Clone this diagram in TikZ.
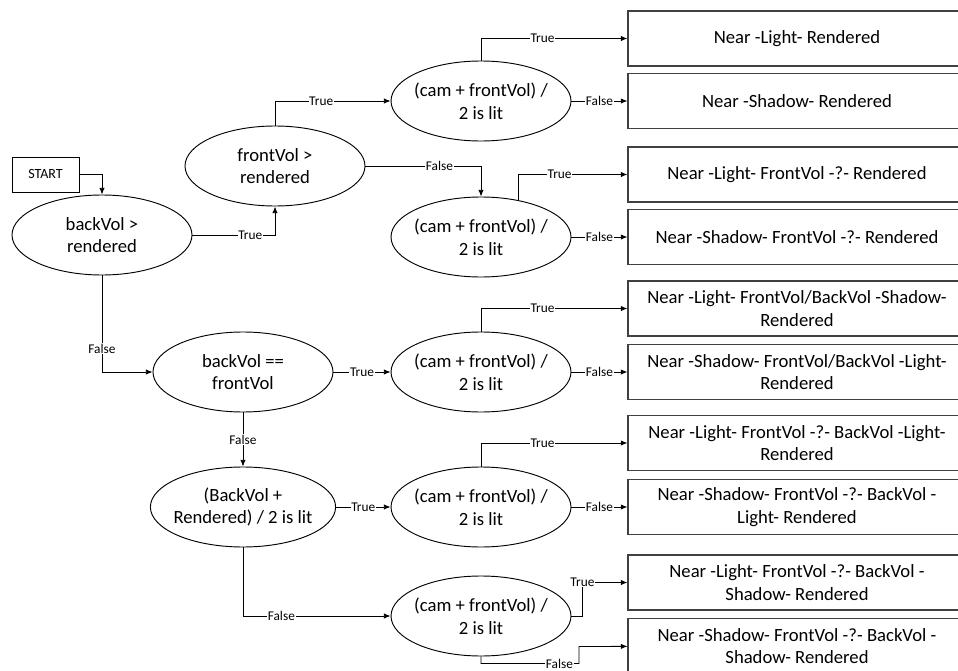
\documentclass[tikz,border=0pt]{standalone}
\usepackage{fontspec}
\setmainfont{Carlito}
\usetikzlibrary{arrows.meta, shapes.geometric}

\begin{document}
\begin{tikzpicture}[x=0.75pt, y=-0.75pt,
    cond/.style = {draw, ellipse, line width=0.7pt, align=center, font=\fontsize{14}{17}\selectfont,
        inner xsep=-3pt, inner ysep=4pt, minimum width=135pt, minimum height=60pt},
    result/.style = {draw, rectangle, line width=0.8pt, draw=black!75, align=center, font=\fontsize{14}{17}\selectfont,
        minimum width=253.5pt, minimum height=41.25pt, inner sep=0pt},
    startbox/.style = {draw, rectangle, line width=0.7pt, font=\fontsize{10.5}{12}\selectfont,
        minimum width=50.25pt, minimum height=26.25pt},
    lbl/.style = {fill=white, inner sep=0.5pt, font=\fontsize{10}{11}\selectfont},
    arr/.style = {-{Latex[length=5pt,width=4pt]}, line width=0.6pt}]
    \useasboundingbox (0,0) rectangle (958,671);

    \node[startbox] (start) at (45.5,174.5) {START};
    \node[cond] (bv) at (102,235) {backVol >\\rendered};
    \node[cond] (fv) at (275,166) {frontVol >\\rendered};
    \node[cond] (be) at (243,372) {backVol ==\\frontVol};
    \node[cond] (br) at (243,507) {(BackVol +\\Rendered) / 2 is lit};

    \node[cond] (c1) at (481,101) {(cam + frontVol) /\\2 is lit};
    \node[cond] (c2) at (481,237) {(cam + frontVol) /\\2 is lit};
    \node[cond] (c3) at (481,372) {(cam + frontVol) /\\2 is lit};
    \node[cond] (c4) at (481,507) {(cam + frontVol) /\\2 is lit};
    \node[cond] (c5) at (481,616) {(cam + frontVol) /\\2 is lit};

    \node[result] (r1) at (797,38.5) {Near -Light- Rendered};
    \node[result] (r2) at (797,101) {Near -Shadow- Rendered};
    \node[result] (r3) at (797,174.5) {Near -Light- FrontVol -?- Rendered};
    \node[result] (r4) at (797,237) {Near -Shadow- FrontVol -?- Rendered};
    \node[result] (r5) at (797,308.5) {Near -Light- FrontVol/BackVol -Shadow-\\Rendered};
    \node[result] (r6) at (797,372) {Near -Shadow- FrontVol/BackVol -Light-\\Rendered};
    \node[result] (r7) at (797,443) {Near -Light- FrontVol -?- BackVol -Light-\\Rendered};
    \node[result] (r8) at (797,507) {Near -Shadow- FrontVol -?- BackVol -\\Light- Rendered};
    \node[result] (r9) at (797,582.5) {Near -Light- FrontVol -?- BackVol -\\Shadow- Rendered};
    \node[result] (r10) at (797,646) {Near -Shadow- FrontVol -?- BackVol -\\Shadow- Rendered};

    \draw[arr] (start) -| (bv);
    \draw[arr] (bv) -| node[lbl, pos=0.35] {True} (fv);
    \draw[arr] (bv) |- node[lbl, pos=0.38] {False} (be);
    \draw[arr] (fv) |- node[lbl, pos=0.7] {True} (c1);
    \draw[arr] (fv) -| node[lbl, pos=0.32] {False} (c2);

    \draw[arr] (c1) |- node[lbl, pos=0.71] {True} (r1);
    \path[arr] (c1) edge node[lbl] {False} (r2);
    \draw[arr] (c2.45) |- node[lbl, pos=0.69] {True} (r3);
    \path[arr] (c2) edge node[lbl] {False} (r4);

    \path[arr] (be) edge node[lbl] {True} (c3);
    \path[arr] (be) edge node[lbl] {False} (br);
    \draw[arr] (c3) |- node[lbl, pos=0.71] {True} (r5);
    \path[arr] (c3) edge node[lbl] {False} (r6);

    \path[arr] (br) edge node[lbl] {True} (c4);
    \draw[arr] (br) |- node[lbl, pos=0.63] {False} (c5);
    \draw[arr] (c4) |- node[lbl, pos=0.71] {True} (r7);
    \path[arr] (c4) edge node[lbl] {False} (r8);

    \draw[arr] (c5.east) -- ++(11,0) |- node[lbl] {True} (r9);
    \draw[arr] (c5.south) -- ++(0,7) -| node[lbl, pos=0.4] {False} ++(98,-17) -- (r10);
\end{tikzpicture}
\end{document}
